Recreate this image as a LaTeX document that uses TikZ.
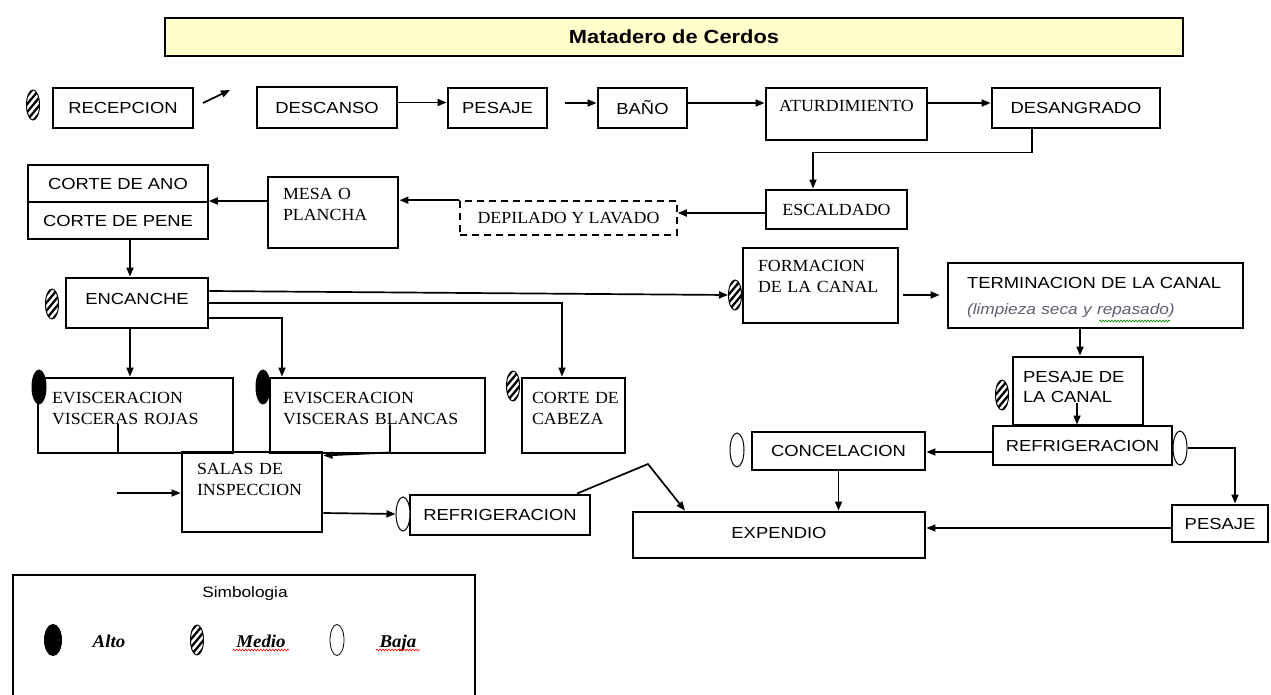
\documentclass[tikz,border=0pt]{standalone}
\usepackage{fontspec}
\setmainfont{Liberation Serif}
\newfontfamily\sansbox[FakeStretch=1.15]{Liberation Sans}
\newfontfamily\serifbox[FakeStretch=1.05]{Liberation Serif}
\usetikzlibrary{shapes.geometric,arrows.meta,decorations.pathmorphing}
\definecolor{titlefill}{RGB}{255,255,204}
\definecolor{subgray}{RGB}{95,95,115}
\begin{document}
\begin{tikzpicture}[x=1pt,y=-1pt,
  box/.style={draw, line width=2.9pt, inner sep=0pt, font=\sansbox\fontsize{16}{20}\selectfont},
  sbox/.style={box, font=\serifbox\fontsize{17}{21}\selectfont},
  thinbox/.style={box, line width=1.7pt},
  titlebox/.style={draw, line width=2.9pt, fill=titlefill, inner sep=0pt, font=\sansbox\bfseries\fontsize{19}{22}\selectfont},
  padb/.style={text height=12pt, text depth=#1},
  lefttext/.style 2 args={inner xsep=#1, text width=#2, align=left},
  conn/.style={line width=1.7pt, -{Triangle[length=9pt,width=7pt]}},
  lineonly/.style={line width=1.7pt},
  alto/.style={ellipse, draw, line width=1pt, fill=black, inner sep=0pt, minimum width=14pt, minimum height=34pt},
  baja/.style={ellipse, draw, line width=1pt, fill=white, inner sep=0pt, minimum width=14pt, minimum height=34pt},
  medio/.style={ellipse, draw, line width=1pt, fill=white, inner sep=0pt, minimum width=13pt, minimum height=30pt,
     path picture={\foreach \k in {-3,...,3}{\draw[line width=2.3pt] ([xshift=-10pt,yshift=\k*8pt-12pt]path picture bounding box.center) -- ++(20pt,24pt);}}},
  legtxt/.style={anchor=base, font=\serifbox\bfseries\itshape\fontsize{18}{20}\selectfont},
  squiggle/.style={line width=0.6pt, decorate, decoration={snake, amplitude=0.9pt, segment length=3pt}}
]
\useasboundingbox (0,0) rectangle (1271,695);
\fill[white] (0,0) rectangle (1271,695);

% title
\node[titlebox, minimum width=1018pt, minimum height=38pt] (title) at (674,37) {Matadero de Cerdos};

% boxes
\node[box, minimum width=140pt, minimum height=40pt] (rec) at (123,108) {RECEPCION};
\node[box, minimum width=140pt, minimum height=41pt] (des) at (327,107.5) {DESCANSO};
\node[box, minimum width=99pt, minimum height=40pt] (pes1) at (497.5,108) {PESAJE};
\node[box, minimum width=89pt, minimum height=40pt] (bano) at (642.5,108) {BAÑO};
\node[sbox, minimum width=161pt, minimum height=52pt, padb=16pt] (atu) at (846.5,114) {ATURDIMIENTO};
\node[box, minimum width=168pt, minimum height=40pt] (desang) at (1076,108) {DESANGRADO};
\node[sbox, minimum width=141pt, minimum height=39pt] (esc) at (836.5,209.5) {ESCALDADO};
\node[sbox, line width=1.6pt, dash pattern=on 7pt off 5pt, minimum width=217pt, minimum height=34pt] (dep) at (568.5,218) {DEPILADO Y LAVADO};
\node[sbox, minimum width=130pt, minimum height=71pt, lefttext={15pt}{100pt}, padb=37pt] (mesa) at (333,212.5) {MESA~O\\PLANCHA};
\node[thinbox, minimum width=180pt, minimum height=37pt] (ano) at (118,183.5) {CORTE DE ANO};
\node[thinbox, minimum width=180pt, minimum height=37pt] (pene) at (118,220.5) {CORTE DE PENE};
\node[box, minimum width=142pt, minimum height=50pt, padb=10pt] (enc) at (137,303) {ENCANCHE};
\node[sbox, minimum width=195pt, minimum height=75pt, lefttext={14pt}{167pt}, padb=37pt] (roj) at (135.5,415.5) {EVISCERACION\\VISCERAS~ROJAS};
\node[sbox, minimum width=215pt, minimum height=75pt, lefttext={13pt}{189pt}, padb=37pt] (bla) at (377.5,415.5) {EVISCERACION\\VISCERAS~BLANCAS};
\node[sbox, minimum width=103pt, minimum height=75pt, lefttext={10pt}{83pt}, padb=37pt] (cab) at (573.5,415.5) {CORTE~DE\\CABEZA};
\node[sbox, minimum width=140pt, minimum height=80pt, lefttext={15pt}{110pt}, padb=48pt] (salas) at (252,492) {SALAS~DE\\INSPECCION};
\node[box, minimum width=180pt, minimum height=40pt] (ref1) at (500,515) {REFRIGERACION};
\node[box, minimum width=292pt, minimum height=46pt, padb=6pt] (expd) at (779,535) {EXPENDIO};
\node[box, minimum width=173pt, minimum height=38pt] (conc) at (838.5,451) {CONCELACION};
\node[box, minimum width=179pt, minimum height=39pt] (ref2) at (1082.5,445.5) {REFRIGERACION};
\node[box, minimum width=96pt, minimum height=37pt] (pes2) at (1220,523.5) {PESAJE};
\node[sbox, minimum width=155pt, minimum height=75pt, lefttext={15pt}{125pt}, padb=41pt] (form) at (820.5,285.5) {FORMACION\\DE~LA~CANAL};
\node[box, minimum width=295pt, minimum height=65pt, lefttext={19pt}{257pt}, padb=27pt] (term) at (1095.5,295.5) {TERMINACION~DE~LA~CANAL\\[6pt]{\fontsize{15}{18}\selectfont\itshape\color{subgray}(limpieza seca y repasado)}};
\node[box, minimum width=130pt, minimum height=68pt, lefttext={10pt}{110pt}, padb=30pt] (pcan) at (1078,391) {PESAJE~DE\\LA~CANAL};

% risk ovals
\node[medio] (m_rec) at (33,105) {};
\node[medio] (m_enc) at (52,304) {};
\node[alto] (a_roj) at (39,387) {};
\node[alto] (a_bla) at (263,387) {};
\node[medio] (m_cab) at (513,386) {};
\node[medio] (m_form) at (735,295) {};
\node[medio] (m_pcan) at (1002,395) {};
\node[baja] (b_ref1) at (403,514) {};
\node[baja] (b_conc) at (737,450) {};
\node[baja] (b_ref2) at (1180,448) {};

% connectors
\coordinate (s1) at (203,103);
\coordinate (s2) at (230,90);
\draw[conn] (s1) -- (s2);
\draw[conn] ([yshift=5pt]des.east) -- ([yshift=5pt]des.east -| pes1.west);
\coordinate (s3) at (565,103);
\draw[conn] (s3) -- (s3 -| bano.west);
\draw[conn] ([yshift=5pt]bano.east) -- ([yshift=5pt]bano.east -| atu.west);
\draw[conn] ([yshift=11pt]atu.east) -- ([yshift=11pt]atu.east -| desang.west);
\draw[conn] ([xshift=-44pt]desang.south) -- ++(0,23) -| ([xshift=-23.5pt]esc.north);
\draw[conn] ([yshift=-3.5pt]esc.west) -- ([yshift=-3.5pt]esc.west -| dep.east);
\draw[conn] (dep.north west) -- (dep.north west -| mesa.east);
\draw[conn] ([yshift=11.5pt]mesa.west) -- ([yshift=11.5pt]mesa.west -| ano.east);
\draw[conn] ([xshift=12pt]pene.south) -- ([xshift=12pt]pene.south |- enc.north);
\draw[conn] ([yshift=12pt]enc.east) -- (m_form.west);
\draw[conn] (enc.east) -| ([xshift=-11.5pt]cab.north);
\draw[conn] ([yshift=-15pt]enc.east) -| ([xshift=-95.5pt]bla.north);
\draw[conn] ([xshift=-7pt]enc.south) -- ([xshift=-7pt]enc.south |- roj.north);
\draw[lineonly] ([xshift=-17.5pt,yshift=30pt]roj.south) -- ([xshift=-17.5pt]roj.south);
\draw[conn] ([xshift=12.5pt,yshift=30pt]bla.south) -- ([xshift=12.5pt,yshift=2pt]bla.south) -- ([yshift=-5pt]salas.north east);
\coordinate (s4) at (117,493);
\draw[conn] (s4) -- (s4 -| salas.west);
\draw[conn] ([yshift=-21pt]salas.east) -- (b_ref1.west);
\coordinate (bend) at (648,464);
\draw[conn] ([xshift=77pt]ref1.north) -- (bend) -- ([xshift=-94pt]expd.north);
\draw[conn] (conc.south) -- (conc.south |- expd.north);
\draw[conn] ([yshift=-6.5pt]ref2.west) -- ([yshift=-6.5pt]ref2.west -| conc.east);
\draw[conn] (b_ref2.east) -| ([xshift=15pt]pes2.north);
\draw[conn] ([yshift=-4.5pt]pes2.west) -- ([yshift=-4.5pt]pes2.west -| expd.east);
\coordinate (tw) at ([xshift=-11pt]term.west);
\draw[conn] ([xshift=4pt,yshift=-9.5pt]form.east) -- ([xshift=4pt,yshift=-9.5pt]form.east -| tw);
\draw[conn] ([xshift=-15.5pt]term.south) -- ([xshift=-15.5pt]term.south |- pcan.north);
\draw[conn] ([xshift=-5.5pt,yshift=22pt]ref2.north) -- ([xshift=-5.5pt]ref2.north);
\draw[squiggle, green!55!black] (1099,321) -- (1170,321);

% legend
\node[draw, line width=2.9pt, minimum width=462pt, minimum height=130pt, inner sep=0pt] (leg) at (244,640) {};
\node[font=\sansbox\fontsize{15}{18}\selectfont] (simb) at (245,594) {Simbologia};
\node[alto, minimum width=17pt, minimum height=31pt] (la) at (53,640) {};
\node[medio] (lm) at (197,640) {};
\node[baja, minimum height=31pt, line width=0.8pt] (lb) at (337,640) {};
\node[legtxt] (lat) at (109,647) {Alto};
\node[legtxt] (lmt) at (261,647) {Medio};
\node[legtxt] (lbt) at (398,647) {Baja};
\draw[squiggle, red] ([yshift=-3pt]lmt.base west) -- ([yshift=-3pt]lmt.base east);
\draw[squiggle, red] ([yshift=-3pt]lbt.base west) -- ([yshift=-3pt]lbt.base east);
\end{tikzpicture}
\end{document}
